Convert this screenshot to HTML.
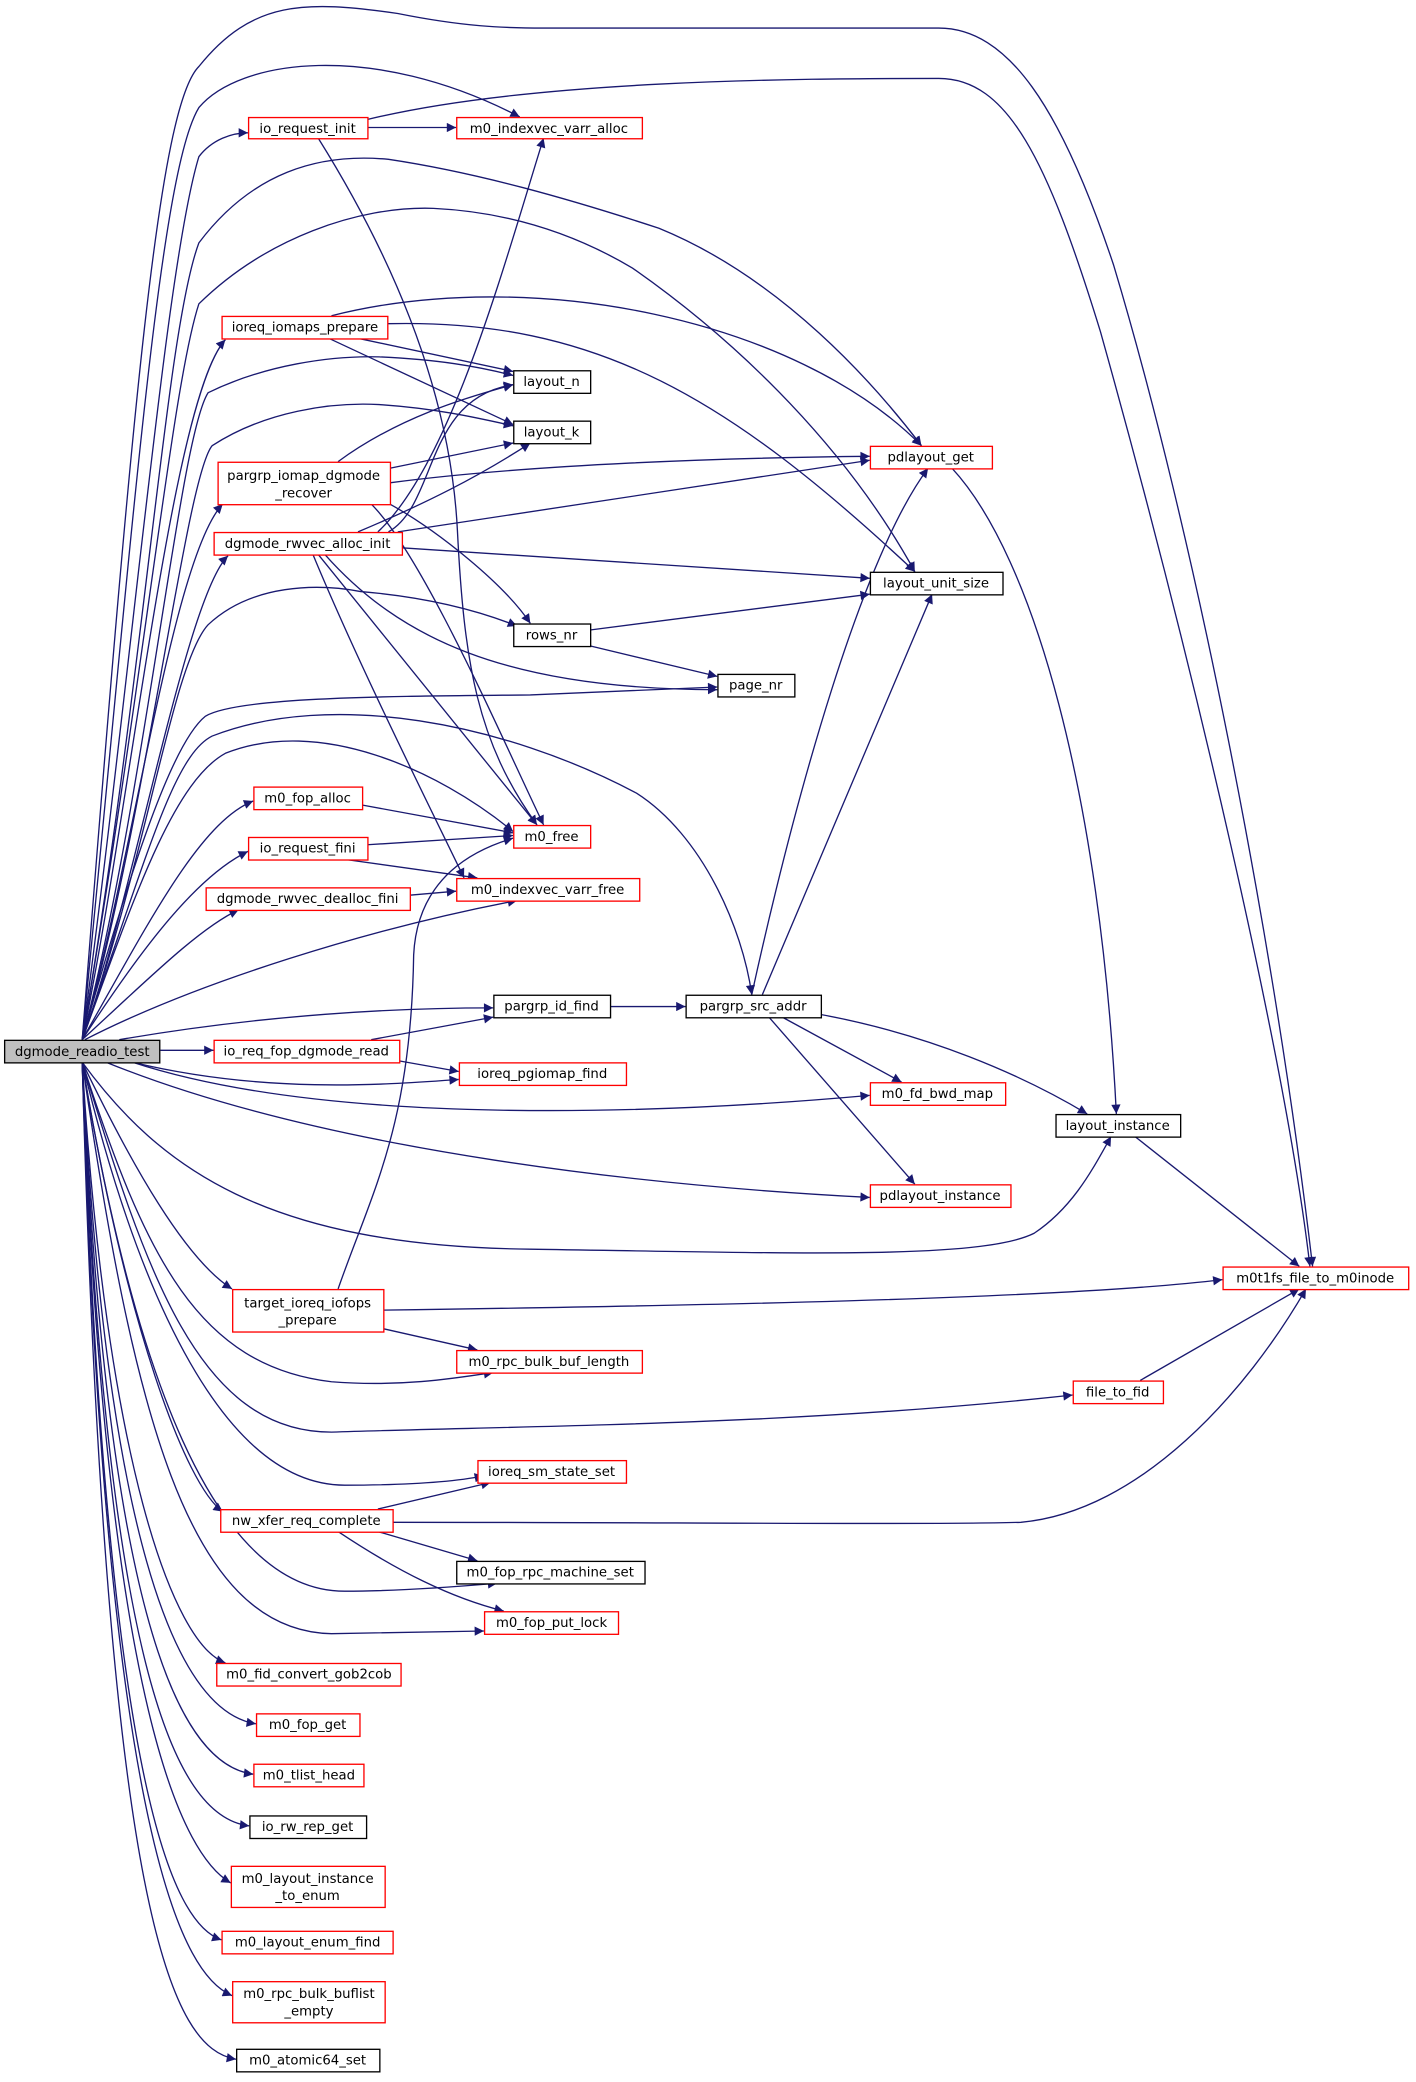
<!DOCTYPE html>
<html><head><meta charset="utf-8">
<style>
html,body{margin:0;padding:0;background:#fff;}
svg{display:block;}
text{font-family:"DejaVu Sans","Liberation Sans",sans-serif;font-size:10px;fill:#000;}
.e{fill:none;stroke:#191970;stroke-width:1;}
</style></head><body>
<svg width="1416" height="2082" viewBox="0 0 1068 1570" xmlns="http://www.w3.org/2000/svg">
<defs>
<marker id="a" viewBox="0 0 10 10" refX="10" refY="5" markerWidth="9" markerHeight="7" markerUnits="userSpaceOnUse" orient="auto">
<path d="M0,0 L10,5 L0,10 z" fill="#191970"/>
</marker>
</defs>
<g class="e" marker-end="url(#a)">
<!-- root upward -->
<path d="M62,784 C100,300 120,80 150,50 C190,0 230,0 300,10 C350,20 380,21 410,21 L708,21 C760,21 800,80 840,200 C900,400 960,700 990,955"/>
<path d="M62,784 C100,400 120,130 150,81 C180,45 280,30 392,88"/>
<path d="M62,784 C100,500 125,200 150,118 C160,105 175,100 187,100"/>
<path d="M62,784 C110,500 125,250 150,183 C190,130 240,115 293,120 C360,130 430,150 497,172 C590,210 660,290 695,336"/>
<path d="M62,784 C110,500 130,290 150,229 C200,180 270,155 327,157 C390,160 440,180 477,202 C560,260 640,340 690,431"/>
<path d="M62,784 C100,600 130,300 170,256"/>
<path d="M62,784 C110,600 135,330 157,296 C200,275 250,268 286,269 C330,271 360,276 387,283"/>
<path d="M62,784 C110,620 140,360 160,336 C200,310 250,303 286,305 C330,308 360,315 387,321"/>
<path d="M62,784 C100,650 130,420 168,380"/>
<path d="M62,784 C100,680 140,450 172,419"/>
<path d="M62,784 C110,650 130,500 157,471 C190,440 240,440 272,446 C320,450 360,460 390,472"/>
<path d="M62,784 C100,650 130,560 155,540 C180,525 300,525 400,524 L541,518"/>
<path d="M62,784 C100,680 130,590 170,568 C240,540 330,580 387,627"/>
<path d="M62,784 C110,650 130,570 160,555 C250,520 380,545 480,598 C530,630 560,700 567,750"/>
<path d="M62,784 C110,700 150,620 191,604"/>
<path d="M62,784 C110,710 150,660 187,642"/>
<path d="M62,784 C110,740 150,700 180,686"/>
<path d="M64,784 C150,740 280,700 390,679"/>
<path d="M90,784 C200,765 300,760 372,760"/>
<path d="M121,792 L161,792"/>
<path d="M100,801 C200,825 290,818 346,814"/>
<path d="M100,801 C250,850 500,840 656,826"/>
<path d="M80,801 C250,870 500,895 656,903"/>
<path d="M62,801 C120,880 200,940 400,942 C600,945 740,950 780,930 C810,910 825,880 838,857"/>
<!-- root downward -->
<path d="M62,801 C100,880 140,950 175,972"/>
<path d="M62,801 C110,950 150,1030 250,1042 C300,1046 340,1040 372,1035"/>
<path d="M62,801 C110,960 150,1080 250,1080 C400,1075 600,1075 809,1052"/>
<path d="M62,801 C105,980 170,1120 260,1120 C300,1120 340,1118 365,1113"/>
<path d="M62,801 C95,1000 140,1120 168,1140"/>
<path d="M62,801 C100,1030 160,1200 260,1200 C300,1200 340,1197 375,1194"/>
<path d="M62,801 C100,1060 140,1230 250,1232 L365,1230"/>
<path d="M62,801 C80,1100 130,1240 170,1254"/>
<path d="M62,801 C80,1150 130,1290 193,1300"/>
<path d="M62,801 C80,1200 130,1330 191,1338"/>
<path d="M62,801 C80,1250 130,1370 188,1377"/>
<path d="M62,801 C80,1300 140,1400 174,1420"/>
<path d="M62,801 C80,1350 130,1450 167,1463"/>
<path d="M62,801 C80,1400 140,1490 175,1505"/>
<path d="M62,801 C80,1450 130,1545 178,1553"/>
<!-- others -->
<path d="M277,96 L344,96"/>
<path d="M277,90 C400,60 600,59 708,59 C760,59 790,120 830,250 C900,500 970,800 988,955"/>
<path d="M240,104 C300,200 340,300 345,400 C350,500 360,560 405,622"/>
<path d="M250,238 C400,200 600,240 695,336"/>
<path d="M292,244 C450,240 550,300 690,431"/>
<path d="M270,255 L387,280"/>
<path d="M248,255 L387,320"/>
<path d="M255,348 C300,315 350,300 387,290"/>
<path d="M294,353 L387,334"/>
<path d="M294,364 C400,350 550,345 656,344"/>
<path d="M294,380 C330,400 380,440 400,470"/>
<path d="M280,380 C320,420 380,560 410,622"/>
<path d="M293,401 C330,380 320,300 387,290"/>
<path d="M270,401 C320,380 360,360 400,334"/>
<path d="M285,401 C340,350 380,200 410,104"/>
<path d="M300,401 L656,347"/>
<path d="M303,413 L656,436"/>
<path d="M245,418 C300,480 380,520 541,520"/>
<path d="M240,418 L405,622"/>
<path d="M236,418 C270,500 320,600 350,662"/>
<path d="M445,475 L656,448"/>
<path d="M445,487 L541,510"/>
<path d="M273,607 L387,628"/>
<path d="M277,637 L387,630"/>
<path d="M260,648 L360,662"/>
<path d="M309,675 L344,672"/>
<path d="M460,759 L517,759"/>
<path d="M280,784 L372,767"/>
<path d="M301,800 L346,808"/>
<path d="M567,750 C600,600 650,420 700,353"/>
<path d="M575,750 L703,448"/>
<path d="M590,767 L680,816"/>
<path d="M580,767 L690,893"/>
<path d="M619,765 C700,780 770,810 820,840"/>
<path d="M718,353 C780,420 830,600 842,840"/>
<path d="M856,857 L980,955"/>
<path d="M255,972 C280,900 310,850 312,720 C315,660 360,640 387,632"/>
<path d="M289,988 C500,985 800,980 922,965"/>
<path d="M289,1002 L360,1018"/>
<path d="M860,1041 L980,972"/>
<path d="M285,1138 L370,1118"/>
<path d="M296,1148 C500,1148 700,1150 770,1148 C860,1140 940,1050 985,972"/>
<path d="M285,1155 L360,1177"/>
<path d="M255,1155 C300,1185 340,1205 380,1215"/>
</g>
<g stroke-width="1" text-anchor="middle">
<rect x="3.5" y="784.5" width="117" height="17" fill="#bfbfbf" stroke="#000"/><text x="62" y="796.5">dgmode_readio_test</text>
<g fill="#fff" stroke="#ff0000">
<rect x="187.5" y="88.5" width="90" height="16"/>
<rect x="344.5" y="88.5" width="140" height="16"/>
<rect x="167.5" y="238.5" width="125" height="17"/>
<rect x="656.5" y="336.5" width="92" height="17"/>
<rect x="164.5" y="348.5" width="130" height="32"/>
<rect x="161.5" y="401.5" width="142" height="17"/>
<rect x="191.5" y="593.5" width="82" height="17"/>
<rect x="387.5" y="622.5" width="58" height="17"/>
<rect x="187.5" y="631.5" width="90" height="17"/>
<rect x="155.5" y="669.5" width="154" height="17"/>
<rect x="344.5" y="662.5" width="138" height="17"/>
<rect x="161.5" y="784.5" width="140" height="17"/>
<rect x="346.5" y="801.5" width="126" height="17"/>
<rect x="656.5" y="816.5" width="102" height="17"/>
<rect x="656.5" y="893.5" width="106" height="17"/>
<rect x="922.5" y="955.5" width="140" height="17"/>
<rect x="175.5" y="972.5" width="114" height="32"/>
<rect x="344.5" y="1018.5" width="140" height="17"/>
<rect x="809.5" y="1041.5" width="68" height="17"/>
<rect x="360.5" y="1101.5" width="112" height="17"/>
<rect x="166.5" y="1138.5" width="130" height="17"/>
<rect x="365.5" y="1215.5" width="101" height="17"/>
<rect x="163.5" y="1254.5" width="139" height="17"/>
<rect x="193.5" y="1292.5" width="78" height="17"/>
<rect x="191.5" y="1330.5" width="83" height="17"/>
<rect x="174.5" y="1407.5" width="116" height="31"/>
<rect x="167.5" y="1456.5" width="129" height="17"/>
<rect x="175.5" y="1494.5" width="115" height="31"/>
</g>
<g fill="#fff" stroke="#000">
<rect x="387.5" y="279.5" width="58" height="17"/>
<rect x="387.5" y="317.5" width="58" height="17"/>
<rect x="656.5" y="431.5" width="100" height="17"/>
<rect x="387.5" y="470.5" width="58" height="17"/>
<rect x="541.5" y="508.5" width="58" height="17"/>
<rect x="372.5" y="750.5" width="88" height="17"/>
<rect x="517.5" y="750.5" width="102" height="17"/>
<rect x="796.5" y="840.5" width="94" height="17"/>
<rect x="344.5" y="1177.5" width="142" height="17"/>
<rect x="188.5" y="1369.5" width="88" height="17"/>
<rect x="178.5" y="1545.5" width="108" height="17"/>
</g>
<text x="232" y="100">io_request_init</text>
<text x="414" y="100">m0_indexvec_varr_alloc</text>
<text x="230" y="250">ioreq_iomaps_prepare</text>
<text x="702" y="348">pdlayout_get</text>
<text x="229" y="362">pargrp_iomap_dgmode</text>
<text x="229" y="375">_recover</text>
<text x="232" y="413">dgmode_rwvec_alloc_init</text>
<text x="232" y="605">m0_fop_alloc</text>
<text x="416" y="634">m0_free</text>
<text x="232" y="643">io_request_fini</text>
<text x="232" y="681">dgmode_rwvec_dealloc_fini</text>
<text x="413" y="674">m0_indexvec_varr_free</text>
<text x="231" y="796">io_req_fop_dgmode_read</text>
<text x="409" y="813">ioreq_pgiomap_find</text>
<text x="707" y="828">m0_fd_bwd_map</text>
<text x="709" y="905">pdlayout_instance</text>
<text x="992" y="967">m0t1fs_file_to_m0inode</text>
<text x="232" y="986">target_ioreq_iofops</text>
<text x="232" y="999">_prepare</text>
<text x="414" y="1030">m0_rpc_bulk_buf_length</text>
<text x="843" y="1053">file_to_fid</text>
<text x="416" y="1113">ioreq_sm_state_set</text>
<text x="231" y="1150">nw_xfer_req_complete</text>
<text x="416" y="1227">m0_fop_put_lock</text>
<text x="233" y="1266">m0_fid_convert_gob2cob</text>
<text x="232" y="1304">m0_fop_get</text>
<text x="233" y="1342">m0_tlist_head</text>
<text x="232" y="1420">m0_layout_instance</text>
<text x="232" y="1433">_to_enum</text>
<text x="232" y="1468">m0_layout_enum_find</text>
<text x="233" y="1507">m0_rpc_bulk_buflist</text>
<text x="233" y="1520">_empty</text>
<text x="416" y="291">layout_n</text>
<text x="416" y="329">layout_k</text>
<text x="706" y="443">layout_unit_size</text>
<text x="416" y="482">rows_nr</text>
<text x="570" y="520">page_nr</text>
<text x="416" y="762">pargrp_id_find</text>
<text x="568" y="762">pargrp_src_addr</text>
<text x="843" y="852">layout_instance</text>
<text x="415" y="1189">m0_fop_rpc_machine_set</text>
<text x="232" y="1381">io_rw_rep_get</text>
<text x="232" y="1557">m0_atomic64_set</text>
</g>
</svg>
</body></html>
